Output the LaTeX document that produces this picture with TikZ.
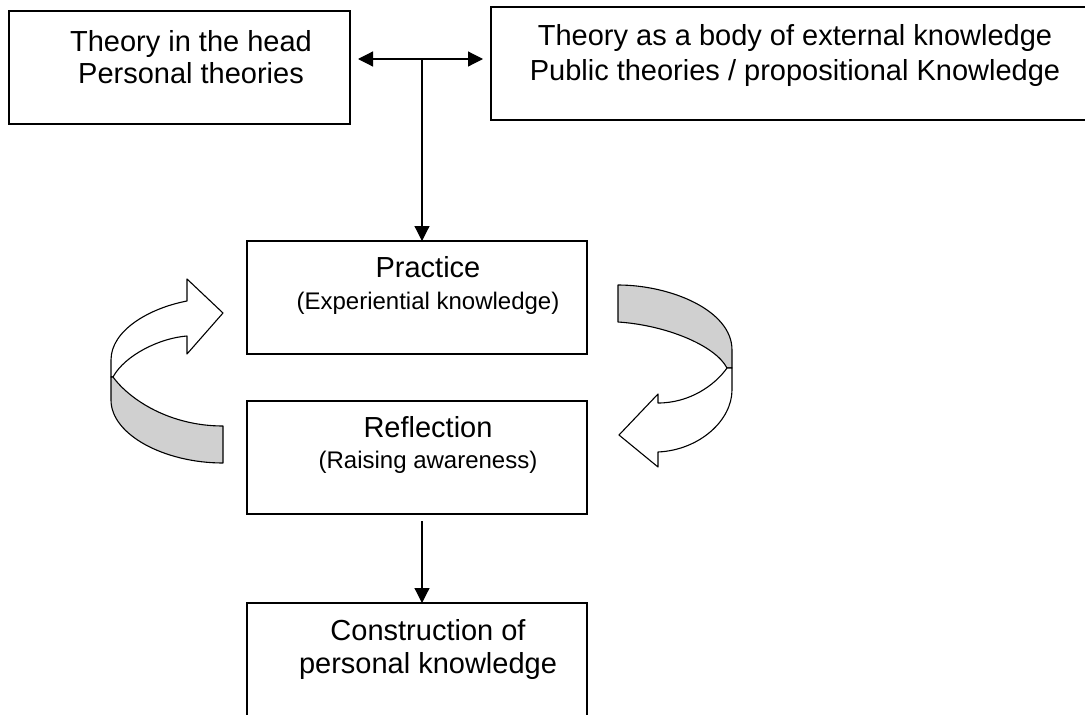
\documentclass[tikz,border=0pt]{standalone}
\usepackage{fontspec}
\setmainfont{Liberation Sans}
\usetikzlibrary{arrows.meta}
\definecolor{ribbon}{RGB}{208,208,208}
\begin{document}
\begin{tikzpicture}[x=1pt,y=-1pt,
  box/.style={draw, line width=1.2pt, inner sep=0pt, outer sep=0pt},
  big/.style={font=\fontsize{29}{33}\selectfont, anchor=base, inner sep=0pt},
  small/.style={font=\fontsize{24}{28}\selectfont, anchor=base, inner sep=0pt},
  arr/.style={line width=1.2pt, -{Triangle[length=15pt,width=15pt]}},
  darr/.style={line width=1.2pt, {Triangle[length=15pt,width=15pt]}-{Triangle[length=15pt,width=15pt]}},
  band/.style={draw, line width=1.1pt, line join=round}]
\useasboundingbox (0,0) rectangle (1085,715);
\clip (0,0) rectangle (1085,715);

% boxes
\node[box, minimum width=341pt, minimum height=113pt] (th) at (179.5,67.5) {};
\node[box, minimum width=599pt, minimum height=113pt] (tb) at (790.5,63.5) {};
\node[box, minimum width=340pt, minimum height=113pt] (pr) at (417,297.5) {};
\node[box, minimum width=340pt, minimum height=113pt] (re) at (417,457.5) {};
\node[box, minimum width=340pt, minimum height=137pt] (co) at (417,671.5) {};

% texts
\node[big] (th1) at (191,51) {Theory in the head};
\node[big] (th2) at (191,83) {Personal theories};
\node[big] (tb1) at (795,45) {Theory as a body of external knowledge};
\node[big] (tb2) at (795,80) {Public theories / propositional Knowledge};
\node[big] (pr1) at (428,277) {Practice};
\node[small] (pr2) at (428,309) {(Experiential knowledge)};
\node[big] (re1) at (428,437) {Reflection};
\node[small] (re2) at (428,468) {(Raising awareness)};
\node[big] (co1) at (428,640) {Construction of};
\node[big] (co2) at (428,673) {personal knowledge};

% connectors
\coordinate (hl) at (358,59);
\coordinate (hr) at (483,59);
\coordinate (hm) at (422,59);
\coordinate (ra) at (422,521);
\draw[darr] (hl) -- (hr);
\draw[arr] (hm) -- (hm |- pr.north);
\draw[arr] (ra) -- (ra |- co.north);

% left curved arrow
\path[band, fill=white] (223,313) -- (187,279) -- (187,301)
  .. controls (150,308) and (111,330) .. (111,360) -- (111,377) -- (113,377)
  .. controls (125,355) and (160,338) .. (187,336) -- (187,354) -- cycle;
\path[band, fill=ribbon] (113,377) .. controls (130,400) and (170,426) .. (223,426)
  -- (223,463) .. controls (165,463) and (111,435) .. (111,400) -- (111,377) -- cycle;

% right curved arrow
\path[band, fill=ribbon] (618,285) .. controls (670,285) and (732,310) .. (732,350)
  -- (732,368) -- (727,368) .. controls (715,345) and (665,325) .. (618,322) -- cycle;
\path[band, fill=white] (727,368) .. controls (715,385) and (690,403) .. (658,403)
  -- (658,394) -- (619,435) -- (658,467) -- (658,452)
  .. controls (700,450) and (732,420) .. (732,390) -- (732,368) -- cycle;
\end{tikzpicture}
\end{document}
